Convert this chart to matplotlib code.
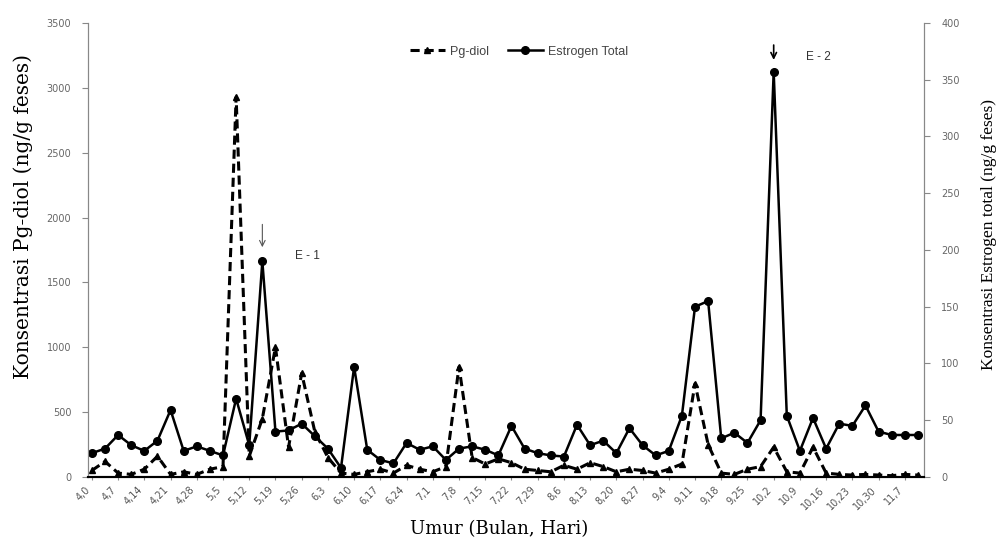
import matplotlib
matplotlib.use("Agg")
import matplotlib.pyplot as plt

# sampling points (every point), labels shown on every second one
tick_labels = ["4,0", "4,7", "4,14", "4,21", "4,28", "5,5", "5,12", "5,19",
               "5,26", "6,3", "6,10", "6,17", "6,24", "7,1", "7,8", "7,15",
               "7,22", "7,29", "8,6", "8,13", "8,20", "8,27", "9,4", "9,11",
               "9,18", "9,25", "10,2", "10,9", "10,16", "10,23", "10,30", "11,7"]

pg_diol = [50, 120, 30, 20, 60, 160, 20, 40, 20, 60,
           80, 2930, 160, 450, 1000, 230, 800, 350, 150, 30,
           20, 40, 60, 30, 90, 60, 40, 80, 850, 150,
           100, 140, 110, 60, 50, 40, 90, 60, 110, 80,
           40, 60, 50, 30, 60, 100, 720, 250, 30, 20,
           60, 80, 230, 40, 30, 230, 30, 20, 15, 20,
           15, 10, 20, 15]

estrogen = [21, 25, 37, 28, 23, 32, 59, 23, 27, 23,
            19, 69, 28, 190, 40, 41, 47, 36, 25, 8,
            97, 24, 15, 12, 30, 24, 27, 15, 25, 27,
            24, 19, 45, 25, 21, 19, 18, 46, 28, 32,
            21, 43, 28, 19, 23, 54, 150, 155, 34, 39,
            30, 50, 357, 54, 23, 52, 25, 47, 45, 63,
            40, 37, 37, 37]

x = list(range(len(estrogen)))

fig = plt.figure(figsize=(10.03, 5.47), dpi=100)
ax = fig.add_axes([0.0877, 0.128, 0.834, 0.830])
ax2 = ax.twinx()

l1, = ax.plot(x, pg_diol, color="black", linestyle=(0, (3, 1.6)), linewidth=2.2,
              marker="^", markersize=3.8, label="Pg-diol")
l2, = ax2.plot(x, estrogen, color="black", linestyle="-", linewidth=1.8,
               marker="o", markersize=5.5, label="Estrogen Total")

ax.set_xlim(-0.3, 63.5)
ax.set_ylim(0, 3500)
ax2.set_ylim(0, 400)
ax.set_yticks(range(0, 3501, 500))
ax2.set_yticks(range(0, 401, 50))

ax.set_xticks(x[::2])
ax.set_xticklabels(tick_labels, rotation=45, ha="right", fontsize=7, color="#555555")
ax.tick_params(axis="y", labelsize=7, labelcolor="#666666", length=4, color="#888888", pad=8)
ax2.tick_params(axis="y", labelsize=7, labelcolor="#666666", length=4, color="#888888", pad=8)
ax.tick_params(axis="x", length=2, color="#888888")

for a in (ax, ax2):
    a.spines["top"].set_visible(False)
    a.spines["left"].set_color("#888888")
    a.spines["right"].set_color("#888888")
    a.spines["bottom"].set_linewidth(1.5)

ax.set_ylabel("Konsentrasi Pg-diol (ng/g feses)", family=["DejaVu Serif"], fontsize=14.5)
ax.yaxis.set_label_coords(-0.0657, 0.573)
ax2.set_ylabel("Konsentrasi Estrogen total (ng/g feses)", family=["Liberation Serif"],
               fontsize=12.5, rotation=90)
ax2.yaxis.set_label_coords(1.067, 0.535)
ax.set_xlabel("Umur (Bulan, Hari)", family=["DejaVu Serif"], fontsize=13)
ax.xaxis.set_label_coords(0.492, -0.095)

ax.legend(handles=[l1, l2], loc="upper center", bbox_to_anchor=(0.515, 0.975), ncol=2,
          frameon=False, handlelength=2.8, columnspacing=1.5, handletextpad=0.4,
          labelcolor="#444444", prop={"family": "Liberation Sans", "size": 9})

# event annotations
ax2.annotate("", xy=(13, 200), xytext=(13, 225),
             arrowprops=dict(arrowstyle="->", color="#555555", lw=0.8))
ax2.text(15.5, 195, "E - 1", fontsize=8.5, family="Liberation Sans", va="center",
         color="#333333")
ax2.annotate("", xy=(52, 365), xytext=(52, 383),
             arrowprops=dict(arrowstyle="->", color="black", lw=1.2))
ax2.text(54.5, 370, "E - 2", fontsize=8.5, family="Liberation Sans", va="center",
         color="#333333")

fig.savefig("out.png", dpi=100)
